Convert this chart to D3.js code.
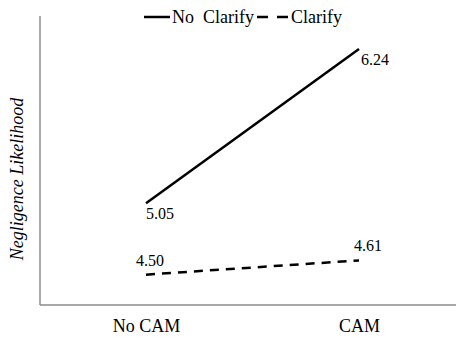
<!DOCTYPE html>
<html>
<head>
<meta charset="utf-8">
<script src="https://cdn.jsdelivr.net/npm/d3@7"></script>
<style>
  body { margin: 0; background: #fff; }
  svg { display: block; }
  .serif { font-family: 'Times New Roman', 'Liberation Serif', Tinos, monospace; }
</style>
</head>
<body>
<div class="chart"></div>
<script>
var categories = ["No CAM", "CAM"];
var seriesNames = ["No  Clarify", "Clarify"];
var noClarify = [5.05, 6.24];
var clarify = [4.50, 4.61];
var yTitle = "Negligence Likelihood";

var width = 456, height = 337;
var plotLeft = 40, plotBottom = 305, plotTop = 16;

var svg = d3.select(".chart")
  .append("svg")
    .attr("width", width)
    .attr("height", height);

var x = d3.scalePoint()
  .domain(categories)
  .range([146, 359]);

var y = d3.scaleLinear()
  .domain([4.266, 6.494])
  .range([plotBottom, plotTop]);

// axes: plain grey lines, no ticks
svg.append("line")
  .attr("x1", plotLeft).attr("x2", plotLeft)
  .attr("y1", plotTop).attr("y2", plotBottom)
  .attr("stroke", "#8c8c8c").attr("stroke-width", 1.5);

svg.append("line")
  .attr("x1", plotLeft).attr("x2", width)
  .attr("y1", plotBottom).attr("y2", plotBottom)
  .attr("stroke", "#8c8c8c").attr("stroke-width", 1.5);

var gX = svg.append("g")
  .attr("transform", "translate(0," + plotBottom + ")")
  .call(d3.axisBottom(x).tickSize(0).tickPadding(14));
gX.select(".domain").remove();
gX.attr("font-family", null).attr("font-size", null);
gX.selectAll("text")
  .attr("class", "serif")
  .style("font-size", "18px")
  .attr("fill", "#000");

// y title
svg.append("text")
  .attr("class", "serif")
  .attr("transform", "translate(23,179) rotate(-90)")
  .attr("text-anchor", "middle")
  .style("font-size", "18px")
  .style("font-style", "italic")
  .text(yTitle);

var line = d3.line()
  .x(function(d, i) { return x(categories[i]); })
  .y(function(d) { return y(d); });

svg.append("path")
  .datum(noClarify)
  .attr("fill", "none")
  .attr("stroke", "#000")
  .attr("stroke-width", 2.5)
  .attr("d", line);

svg.append("path")
  .datum(clarify)
  .attr("fill", "none")
  .attr("stroke", "#000")
  .attr("stroke-width", 2.5)
  .attr("stroke-dasharray", "9,7")
  .attr("d", line);

// value labels
var fmt = d3.format(".2f");
svg.selectAll(".lab-nc")
  .data(noClarify)
  .enter().append("text")
  .attr("class", "serif")
  .attr("x", function(d, i) { return x(categories[i]) + (i === 0 ? 0 : 2); })
  .attr("y", function(d) { return y(d) + 16; })
  .style("font-size", "16px")
  .text(function(d) { return fmt(d); });

svg.selectAll(".lab-c")
  .data(clarify)
  .enter().append("text")
  .attr("class", "serif")
  .attr("x", function(d, i) { return x(categories[i]) + (i === 0 ? -10 : -5); })
  .attr("y", function(d) { return y(d) - 9; })
  .style("font-size", "16px")
  .text(function(d) { return fmt(d); });

// legend
svg.append("line")
  .attr("x1", 144).attr("x2", 170).attr("y1", 17).attr("y2", 17)
  .attr("stroke", "#000").attr("stroke-width", 2.5);
svg.append("text")
  .attr("class", "serif")
  .attr("x", 172).attr("y", 23)
  .style("font-size", "18px")
  .style("white-space", "pre")
  .text(seriesNames[0]);
svg.append("line")
  .attr("x1", 257).attr("x2", 288).attr("y1", 17).attr("y2", 17)
  .attr("stroke", "#000").attr("stroke-width", 2.5)
  .attr("stroke-dasharray", "11,9");
svg.append("text")
  .attr("class", "serif")
  .attr("x", 291).attr("y", 23)
  .style("font-size", "18px")
  .text(seriesNames[1]);
</script>
</body>
</html>
